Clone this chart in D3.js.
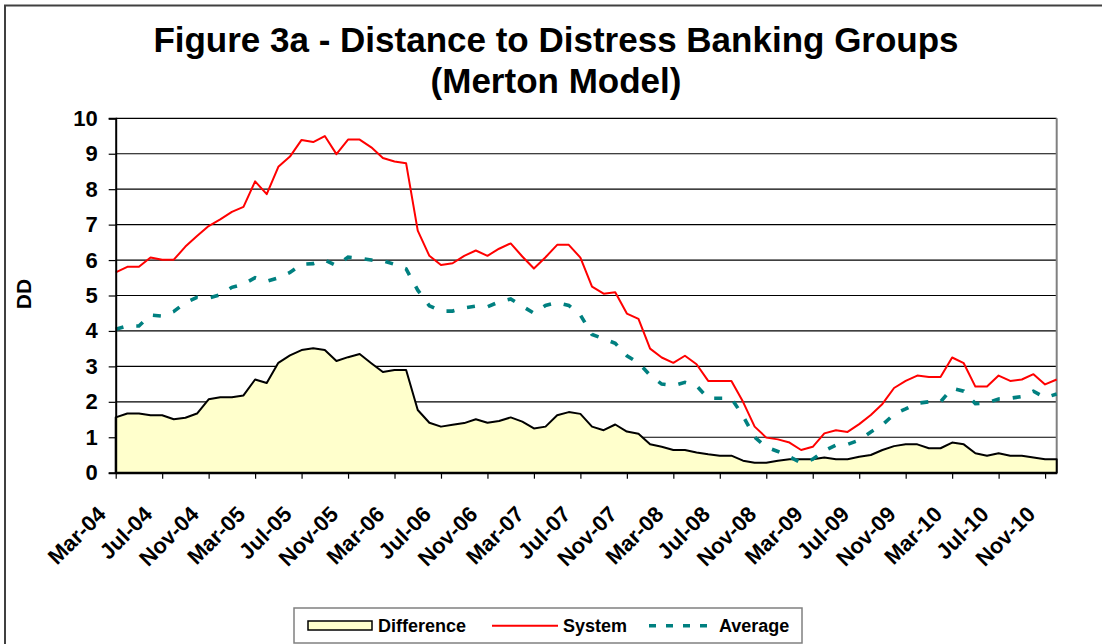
<!DOCTYPE html>
<html>
<head>
<meta charset="utf-8">
<script src="https://cdn.jsdelivr.net/npm/d3@7"></script>
<style>
  html, body { margin: 0; padding: 0; background: #fff; }
  svg { display: block; }
  text { font-family: "Liberation Sans", Arial, sans-serif; font-weight: bold; fill: #000; }
</style>
</head>
<body>
<svg id="chart" width="1102" height="644"></svg>
<script>
const months = ["Mar-04","Apr-04","May-04","Jun-04","Jul-04","Aug-04","Sep-04","Oct-04","Nov-04","Dec-04",
  "Jan-05","Feb-05","Mar-05","Apr-05","May-05","Jun-05","Jul-05","Aug-05","Sep-05","Oct-05","Nov-05","Dec-05",
  "Jan-06","Feb-06","Mar-06","Apr-06","May-06","Jun-06","Jul-06","Aug-06","Sep-06","Oct-06","Nov-06","Dec-06",
  "Jan-07","Feb-07","Mar-07","Apr-07","May-07","Jun-07","Jul-07","Aug-07","Sep-07","Oct-07","Nov-07","Dec-07",
  "Jan-08","Feb-08","Mar-08","Apr-08","May-08","Jun-08","Jul-08","Aug-08","Sep-08","Oct-08","Nov-08","Dec-08",
  "Jan-09","Feb-09","Mar-09","Apr-09","May-09","Jun-09","Jul-09","Aug-09","Sep-09","Oct-09","Nov-09","Dec-09",
  "Jan-10","Feb-10","Mar-10","Apr-10","May-10","Jun-10","Jul-10","Aug-10","Sep-10","Oct-10","Nov-10","Dec-10"];

const systemDD = [5.65,5.81,5.81,6.07,6.01,6.01,6.38,6.68,6.96,7.15,
  7.36,7.50,8.22,7.86,8.63,8.92,9.39,9.33,9.50,8.99,
  9.40,9.40,9.18,8.88,8.78,8.73,6.83,6.12,5.86,5.91,
  6.12,6.27,6.12,6.32,6.47,6.10,5.76,6.08,6.43,6.43,
  6.07,5.25,5.05,5.09,4.49,4.34,3.50,3.25,3.10,3.30,
  3.06,2.59,2.59,2.59,2.00,1.30,0.99,0.94,0.85,0.64,
  0.73,1.11,1.20,1.15,1.37,1.63,1.94,2.39,2.59,2.74,
  2.70,2.70,3.25,3.09,2.43,2.43,2.74,2.59,2.63,2.78,
  2.49,2.63];

const averageDD = [4.05,4.14,4.14,4.45,4.42,4.55,4.80,4.95,4.93,5.02,
  5.23,5.32,5.50,5.40,5.50,5.65,5.88,5.90,6.00,5.84,
  6.08,6.05,6.00,5.98,5.88,5.75,5.15,4.71,4.56,4.56,
  4.65,4.70,4.68,4.82,4.90,4.70,4.50,4.72,4.80,4.72,
  4.45,3.90,3.78,3.65,3.30,3.10,2.75,2.50,2.46,2.55,
  2.45,2.10,2.10,2.10,1.60,1.00,0.72,0.60,0.45,0.28,
  0.38,0.62,0.78,0.80,0.92,1.15,1.35,1.65,1.80,1.96,
  2.00,2.00,2.38,2.30,1.95,1.97,2.08,2.10,2.15,2.30,
  2.12,2.22];

const differenceDD = [1.56,1.67,1.67,1.62,1.62,1.51,1.55,1.67,2.07,2.13,
  2.13,2.18,2.63,2.53,3.10,3.31,3.46,3.51,3.46,3.15,
  3.26,3.35,3.09,2.84,2.90,2.90,1.77,1.41,1.30,1.35,
  1.40,1.51,1.41,1.46,1.56,1.44,1.25,1.30,1.62,1.71,
  1.66,1.30,1.20,1.36,1.16,1.10,0.80,0.73,0.64,0.64,
  0.57,0.52,0.48,0.48,0.34,0.28,0.28,0.34,0.38,0.38,
  0.38,0.43,0.38,0.38,0.45,0.50,0.64,0.75,0.80,0.80,
  0.69,0.69,0.85,0.80,0.55,0.48,0.55,0.48,0.48,0.43,
  0.38,0.38];

const xTickLabels = ["Mar-04","Jul-04","Nov-04","Mar-05","Jul-05","Nov-05","Mar-06","Jul-06","Nov-06",
  "Mar-07","Jul-07","Nov-07","Mar-08","Jul-08","Nov-08","Mar-09","Jul-09","Nov-09","Mar-10","Jul-10","Nov-10"];
const yTicks = [0,1,2,3,4,5,6,7,8,9,10];
const seriesNames = ["Difference","System","Average"];
const titleLines = ["Figure 3a - Distance to Distress Banking Groups","(Merton Model)"];
const yTitle = "DD";

const svg = d3.select("#chart");
const L = 115.7, R = 1056.7, T = 118.3, B = 472.7;

// outer frame
svg.append("rect").attr("x",5).attr("y",5.5).attr("width",1200).attr("height",700)
  .attr("fill","#fff").attr("stroke","#404040").attr("stroke-width",2);

const x = d3.scalePoint().domain(months).range([L, R]).padding(0);
const y = d3.scaleLinear().domain([0, 10]).range([B, T]);

// title
svg.append("text").attr("x",556).attr("y",51.5).attr("text-anchor","middle")
  .style("font-size","35px").text(titleLines[0]);
svg.append("text").attr("x",556).attr("y",93.3).attr("text-anchor","middle")
  .style("font-size","35px").text(titleLines[1]);

// gridlines
svg.append("g").selectAll("line").data(yTicks.filter(d => d > 0)).join("line")
  .attr("x1", L).attr("x2", R).attr("y1", d => y(d)).attr("y2", d => y(d))
  .attr("stroke","#000").attr("stroke-width",1.2);

// plot right border
svg.append("line").attr("x1",R).attr("x2",R).attr("y1",T).attr("y2",B)
  .attr("stroke","#808080").attr("stroke-width",2);

// difference area
const area = d3.area().x((d,i) => x(months[i])).y0(y(0)).y1(d => y(d));
svg.append("path").datum(differenceDD).attr("d", area)
  .attr("fill","#FFFFCC").attr("stroke","#000").attr("stroke-width",2).attr("stroke-linejoin","round");

const line = d3.line().x((d,i) => x(months[i])).y(d => y(d));
svg.append("path").datum(systemDD).attr("d", line)
  .attr("fill","none").attr("stroke","#FF0000").attr("stroke-width",2).attr("stroke-linejoin","round");
svg.append("path").datum(averageDD).attr("d", line)
  .attr("fill","none").attr("stroke","#008080").attr("stroke-width",3.6).attr("stroke-dasharray","8,13");

// axes
const yAxis = svg.append("g").attr("transform",`translate(${L},0)`)
  .call(d3.axisLeft(y).tickValues(yTicks).tickSize(7).tickPadding(11).tickFormat(d3.format("d")));
yAxis.select(".domain").attr("stroke","#000").attr("stroke-width",2);
yAxis.selectAll(".tick line").attr("stroke","#000").attr("stroke-width",1.2);
yAxis.selectAll("text").style("font-size","22px").style("font-family","'Liberation Sans', Arial, sans-serif")
  .style("font-weight","bold").attr("fill","#000");

const xAxis = svg.append("g").attr("transform",`translate(0,${B})`)
  .call(d3.axisBottom(x).tickValues(xTickLabels).tickSize(6).tickSizeOuter(0));
xAxis.select(".domain").attr("stroke","#000").attr("stroke-width",2);
xAxis.selectAll(".tick line").attr("stroke","#000").attr("stroke-width",1.2);
xAxis.selectAll("text")
  .attr("x",0).attr("y",0).attr("dy",0)
  .attr("text-anchor","end")
  .attr("transform","translate(-9,43) rotate(-45)")
  .style("font-size","22px").style("font-family","'Liberation Sans', Arial, sans-serif")
  .style("font-weight","bold").attr("fill","#000");

// y title
svg.append("text").attr("transform","translate(31,294) rotate(-90)")
  .attr("text-anchor","middle").style("font-size","21px").text(yTitle);

// legend
const lg = svg.append("g");
lg.append("rect").attr("x",294).attr("y",608).attr("width",508).attr("height",35)
  .attr("fill","#fff").attr("stroke","#808080").attr("stroke-width",1.5);
lg.append("rect").attr("x",308).attr("y",621).attr("width",64).attr("height",9)
  .attr("fill","#FFFFCC").attr("stroke","#000").attr("stroke-width",1.5);
lg.append("text").attr("x",378).attr("y",632).style("font-size","18px").text(seriesNames[0]);
lg.append("line").attr("x1",492).attr("x2",558).attr("y1",625.7).attr("y2",625.7)
  .attr("stroke","#FF0000").attr("stroke-width",2);
lg.append("text").attr("x",563).attr("y",632).style("font-size","18px").text(seriesNames[1]);
lg.append("line").attr("x1",649).attr("x2",716).attr("y1",625.7).attr("y2",625.7)
  .attr("stroke","#008080").attr("stroke-width",3.6).attr("stroke-dasharray","7,10");
lg.append("text").attr("x",719).attr("y",632).style("font-size","18px").text(seriesNames[2]);
</script>
</body>
</html>
